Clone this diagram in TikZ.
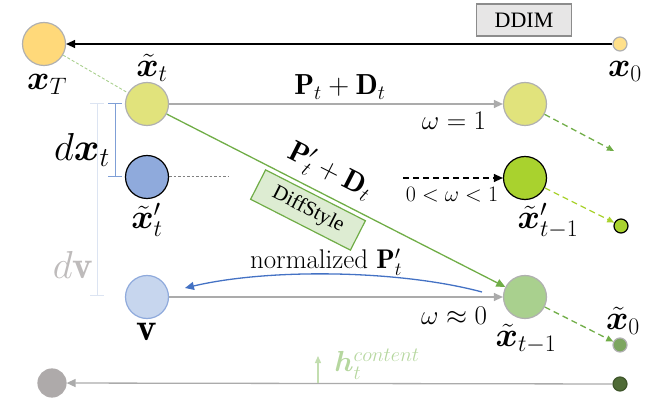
\RequirePackage{fix-cm}
\documentclass[tikz,border=0pt]{standalone}
\usepackage{amsmath,bm}
\usepackage{fontspec}
\newfontfamily\tmsfont{Liberation Serif}
\usetikzlibrary{arrows.meta}
\definecolor{cxT}{HTML}{FFD97A}
\definecolor{cxz}{HTML}{FFE08A}
\definecolor{cxt}{HTML}{E1E37C}
\definecolor{cxtp}{HTML}{8FAADC}
\definecolor{cxtpm}{HTML}{A9D22E}
\definecolor{cv}{HTML}{C7D6EE}
\definecolor{cxtm}{HTML}{A9D08E}
\definecolor{cxzt}{HTML}{7DA660}
\definecolor{cgr}{HTML}{AEAAAA}
\definecolor{cdk}{HTML}{4F6B36}
\definecolor{gline}{HTML}{ABABAB}
\definecolor{gborder}{HTML}{B0B0B0}
\definecolor{grn}{HTML}{70AD47}
\definecolor{lgrn}{HTML}{A9D08E}
\definecolor{bcurve}{HTML}{4472C4}
\definecolor{bbr}{HTML}{7F9FD6}
\definecolor{lbr}{HTML}{DCE4F2}
\definecolor{ddimfill}{HTML}{E7E6E6}
\definecolor{ddimdraw}{HTML}{8C8C8C}
\tikzset{
  circ/.style={circle, inner sep=0pt, line width=1.2pt},
  bigc/.style={circ, minimum size=43pt},
  smallc/.style={circ, minimum size=14pt},
  lbl/.style={inner sep=0pt, font=\fontsize{34}{36}\selectfont},
  lblb/.style={inner sep=0pt, font=\fontsize{39}{41}\selectfont},
  mid/.style={inner sep=0pt, font=\fontsize{29}{31}\selectfont},
  om/.style={inner sep=0pt, font=\fontsize{27}{29}\selectfont},
  tip/.style={-{Triangle[length=9pt,width=8pt]}},
  stip/.style={-{Triangle[length=7pt,width=6pt]}},
  dsh/.style={dash pattern=on 6pt off 4pt},
}
\begin{document}
\begin{tikzpicture}[x=1pt,y=-1pt]
\useasboundingbox (0,0) rectangle (665,401);
% circles
\node[bigc, fill=cxT, draw=gborder] (xT) at (44,44) {};
\node[smallc, fill=cxz, draw=gborder] (x0) at (620,44) {};
\node[bigc, fill=cxt, draw=gborder] (xt) at (147,104) {};
\node[bigc, fill=cxt, draw=gborder] (xr) at (525,104) {};
\node[bigc, fill=cxtp, draw=black] (xtp) at (147,177) {};
\node[bigc, fill=cxtpm, draw=black] (xtpm) at (525,178) {};
\node[smallc, fill=cxtpm, draw=black] (xtpms) at (621,226) {};
\node[bigc, fill=cv, draw=cxtp] (v) at (147,297) {};
\node[bigc, fill=cxtm, draw=gborder] (xtm) at (525,297) {};
\node[smallc, fill=cxzt, draw=gborder] (xzt) at (620,345) {};
\node[circ, minimum size=28pt, fill=cgr, draw=cgr] (bg) at (52,383) {};
\node[smallc, fill=cdk, draw=cdk!80!black] (bd) at (620,384) {};
% DDIM box
\node[draw=ddimdraw, fill=ddimfill, line width=1.2pt, minimum width=95pt, minimum height=32pt, inner sep=0pt, font=\tmsfont\fontsize{22}{24}\selectfont] (ddim) at (524,20) {DDIM};
% connectors
\draw[tip, line width=1.3pt, black] (x0) -- (xT);
\draw[densely dashed, lgrn, line width=0.9pt] (xT) -- (xt);
\draw[tip, gline, line width=1.3pt] (xt) -- (xr);
\coordinate (e1) at (614,151);
\draw[stip, dsh, grn, line width=1.3pt] (xr) -- (e1);
\coordinate (dotend) at (228,177);
\draw[dash pattern=on 2.5pt off 2pt, gray, line width=1pt] (xtp) -- (dotend);
\coordinate (bst) at (403,178);
\draw[tip, dsh, black, line width=1.3pt] (bst) -- (xtpm);
\draw[stip, dsh, cxtpm, line width=1.3pt] (xtpm) -- (xtpms);
\draw[tip, grn, line width=1.3pt] (xt) -- (xtm);
\draw[tip, gline, line width=1.3pt] (v) -- (xtm);
\draw[stip, dsh, grn, line width=1.3pt] (xtm) -- (xzt);
\coordinate (bc1) at (482,292);
\coordinate (bc2) at (185,288);
\draw[tip, bcurve, line width=1.3pt] (bc1) .. controls (400,270) and (270,268) .. (bc2);
\draw[tip, gline, line width=1.3pt] (bd) -- (bg);
\coordinate (h1) at (318,383);
\coordinate (h2) at (318,356);
\draw[stip, lgrn!70!white, line width=1.3pt] (h1) -- (h2);
% brackets
\coordinate (lb1) at (97,104);
\coordinate (lb2) at (97,296);
\draw[lbr, line width=1pt] (90,104) -- (104,104) (lb1) -- (lb2) (90,296) -- (104,296);
\coordinate (bb1) at (115,104);
\coordinate (bb2) at (115,177);
\draw[bbr, line width=1pt] (108,104) -- (122,104) (bb1) -- (bb2) (108,177) -- (122,177);
% DiffStyle
\node[draw=grn, fill=cxtm!40!white, line width=1.2pt, rotate=-27, minimum width=112pt, minimum height=33pt, inner sep=0pt, font=\tmsfont\fontsize{21}{23}\selectfont] (ds) at (308,210) {DiffStyle};
% labels
\node[lbl] (lxT) at (47,84) {$\bm{x}_T$};
\node[lbl] (lx0) at (625,71) {$\bm{x}_0$};
\node[lbl] (lxt) at (152,68) {$\tilde{\bm{x}}_t$};
\node[lbl] (lxtp) at (147,220) {$\tilde{\bm{x}}'_t$};
\node[lbl] (lxtpm) at (548,221) {$\tilde{\bm{x}}'_{t-1}$};
\node[lbl] (lxtm) at (526,339) {$\tilde{\bm{x}}_{t-1}$};
\node[lbl] (lxzt) at (623,321) {$\tilde{\bm{x}}_0$};
\node[lblb] (lv) at (147,332) {$\mathbf{v}$};
\node[lblb] (ldx) at (82,150) {$d\bm{x}_t$};
\node[lblb, text=cgr!80!white] (ldv) at (73,265) {$d\mathbf{v}$};
\node[mid] (lpd) at (340,87) {$\mathbf{P}_t+\mathbf{D}_t$};
\node[mid, rotate=-27] (lpdp) at (330,172) {$\mathbf{P}'_t+\mathbf{D}_t$};
\node[om] (lw1) at (454,121) {$\omega=1$};
\node[inner sep=0pt, font=\fontsize{22}{24}\selectfont] (lw2) at (452,195) {$0<\omega<1$};
\node[om] (lw0) at (454,316) {$\omega\approx0$};
\node[inner sep=0pt, font=\fontsize{27}{29}\selectfont] (lnorm) at (326,262) {normalized $\mathbf{P}'_t$};
\node[mid, text=lgrn!85!white] (lh) at (377,364) {$\bm{h}_t^{content}$};
\end{tikzpicture}
\end{document}
